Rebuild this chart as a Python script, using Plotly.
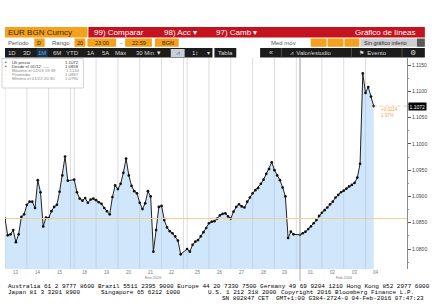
import plotly.graph_objects as go

# ---------------- data ----------------
days = ["13", "14", "15", "18", "19", "20", "21", "22", "25", "26",
        "27", "28", "29", "01", "02", "03", "04"]
weekend_after = ["15", "22", "29"]
session_hours = ["23:00", "02:00", "05:00", "08:00", "11:00", "14:00", "17:00", "20:00"]

jan13 = [1.0858, 1.0826, 1.0828, 1.0836, 1.0813, 1.0828, 1.0861, 1.0866]
jan14 = [1.0884, 1.0890, 1.0890, 1.0878, 1.0931, 1.0908, 1.0843, 1.0860]
jan15 = [1.0859, 1.0872, 1.0880, 1.0884, 1.0909, 1.0940, 1.0976, 1.0930]
jan18 = [1.0932, 1.0908, 1.0896, 1.0892, 1.0897, 1.0888, 1.0894, 1.0896]
jan19 = [1.0893, 1.0889, 1.0886, 1.0878, 1.0872, 1.0866, 1.0899, 1.0921]
jan20 = [1.0914, 1.0924, 1.0945, 1.0972, 1.0940, 1.0920, 1.0910, 1.0906]
jan21 = [1.0888, 1.0876, 1.0887, 1.0910, 1.0900, 1.0795, 1.0836, 1.0880]
jan22 = [1.0882, 1.0855, 1.0841, 1.0834, 1.0830, 1.0824, 1.0816, 1.0790]
jan25 = [1.0800, 1.0795, 1.0808, 1.0814, 1.0817, 1.0824, 1.0832, 1.0840]
jan26 = [1.0849, 1.0852, 1.0853, 1.0858, 1.0864, 1.0867, 1.0868, 1.0862]
jan27 = [1.0858, 1.0871, 1.0880, 1.0885, 1.0881, 1.0879, 1.0890, 1.0898]
jan28 = [1.0906, 1.0912, 1.0916, 1.0924, 1.0932, 1.0943, 1.0952, 1.0965]
jan29 = [1.0950, 1.0940, 1.0931, 1.0917, 1.0900, 1.0821, 1.0833, 1.0828]
feb01 = [1.0827, 1.0830, 1.0833, 1.0838, 1.0843, 1.0849, 1.0855, 1.0863]
feb02 = [1.0869, 1.0874, 1.0879, 1.0885, 1.0890, 1.0898, 1.0903, 1.0908]
feb03 = [1.0911, 1.0915, 1.0919, 1.0922, 1.0926, 1.0936, 1.0962, 1.1134]
feb04 = [1.1097, 1.1108, 1.1090, 1.1072]

series_by_day = [jan13, jan14, jan15, jan18, jan19, jan20, jan21, jan22, jan25,
                 jan26, jan27, jan28, jan29, feb01, feb02, feb03, feb04]

y_ticks = [1.0800, 1.0850, 1.0900, 1.0950, 1.1000, 1.1050, 1.1100, 1.1150]
last_price = 1.1072
start_price = 1.0858
legend_rows = [("Últ precio", "1.1072"), ("Desde el 01/12  ----", "1.0858"),
               ("Máximo el 02/03 19:39", "1.1134"), ("Promedio", "1.0887"),
               ("Mínimo el 01/22 20:30", "1.0790")]
change_text = ["+0.0214", "1.97%"]

# ---------------- layout constants ----------------
W, H = 432, 306
PL, PR, PT, PB = 5, 410, 58, 269
DAY_PX = 22.0
GAP = 0.17
Y_RANGE = [1.0762, 1.11634]
X_MAX = (PR - PL) / DAY_PX

def px(x):
    return (x - PL) / (PR - PL)

def py(y):
    return (PB - y) / (PB - PT)

# positions of each trading session
pos = {}
off = 0.0
for i, d in enumerate(days):
    pos[d] = i + off
    if d in weekend_after:
        off += GAP

xs, ys = [], []
n = len(session_hours)
for d, vals in zip(days, series_by_day):
    for k, v in enumerate(vals):
        xs.append(pos[d] + k / n)
        ys.append(v)

fig = go.Figure()
fig.add_trace(go.Scatter(
    x=xs, y=ys, mode="lines+markers",
    line=dict(color="#222222", width=1),
    marker=dict(size=2.7, color="#111111"),
    fill="tozeroy", fillcolor="rgba(150,200,246,0.45)",
    hoverinfo="skip", showlegend=False))

shapes = []
ann = []

# vertical day gridlines
for d in days:
    shapes.append(dict(type="line", xref="x", yref="paper", x0=pos[d], x1=pos[d],
                       y0=0, y1=1, line=dict(color="#cfcfcf", width=0.7), layer="below"))
    if d in weekend_after:
        shapes.append(dict(type="line", xref="x", yref="paper", x0=pos[d] + 1, x1=pos[d] + 1,
                           y0=0, y1=1, line=dict(color="#cfcfcf", width=0.7), layer="below"))
# month separator
shapes.append(dict(type="line", xref="x", yref="paper", x0=pos["01"], x1=pos["01"],
                   y0=py(281), y1=1, line=dict(color="#9a9a9a", width=0.8)))
# start-price line
shapes.append(dict(type="line", xref="paper", yref="y", x0=0, x1=1, y0=start_price, y1=start_price,
                   line=dict(color="#f1cf95", width=1)))
# last price dotted line
shapes.append(dict(type="line", xref="x", yref="y", x0=xs[-1], x1=X_MAX, y0=last_price, y1=last_price,
                   line=dict(color="#efc27c", width=0.8, dash="dot")))

# last price box
ann.append(dict(xref="paper", yref="y", x=1.003, y=last_price, text="1.1072", showarrow=False,
                xanchor="left", yanchor="middle", bgcolor="#000000",
                font=dict(family="Liberation Sans", size=5, color="#ffffff"), borderpad=0.5))
for t, yy in zip(change_text, [109, 115.5]):
    ann.append(dict(xref="paper", yref="paper", x=px(382), y=py(yy), text=t, showarrow=False,
                    xanchor="left", yanchor="middle",
                    font=dict(family="Liberation Sans", size=4.5, color="#f0a53a")))

# x labels (day centres) and months
for d in days:
    ann.append(dict(xref="x", yref="paper", x=pos[d] + 0.5, y=py(272.5), text=d, showarrow=False,
                    xanchor="center", yanchor="middle",
                    font=dict(family="Liberation Sans", size=4.5, color="#7a7a7a")))
ann.append(dict(xref="x", yref="paper", x=(pos["13"] + pos["01"]) / 2, y=py(277.5), text="Ene 2016",
                showarrow=False, xanchor="center", yanchor="middle",
                font=dict(family="Liberation Sans", size=3.8, color="#7a7a7a")))
ann.append(dict(xref="x", yref="paper", x=pos["03"], y=py(277.5), text="Feb 2016",
                showarrow=False, xanchor="center", yanchor="middle",
                font=dict(family="Liberation Sans", size=3.8, color="#7a7a7a")))

# legend box
shapes.append(dict(type="rect", xref="paper", yref="paper", x0=px(2), x1=px(84), y0=py(88), y1=py(58.5),
                   fillcolor="#ffffff", line=dict(color="#b5b5b5", width=0.6)))
for i, (lab, val) in enumerate(legend_rows):
    yy = 62.5 + i * 3.9
    col = "#333333" if i < 2 else "#8a8a8a"
    ann.append(dict(xref="paper", yref="paper", x=px(10), y=py(yy), text=lab, showarrow=False,
                    xanchor="left", yanchor="middle", font=dict(family="Liberation Sans", size=4.3, color=col)))
    ann.append(dict(xref="paper", yref="paper", x=px(82), y=py(yy), text=val, showarrow=False,
                    xanchor="right", yanchor="middle", font=dict(family="Liberation Sans", size=4.3, color=col)))
    ann.append(dict(xref="paper", yref="paper", x=px(6.5), y=py(yy), text="•" if i < 2 else "·",
                    showarrow=False, xanchor="center", yanchor="middle",
                    font=dict(family="Liberation Sans", size=4.5, color=col)))

# ---------------- toolbar ----------------
def rect(x0, y0, x1, y1, color, line=None):
    shapes.append(dict(type="rect", xref="paper", yref="paper", x0=px(x0), x1=px(x1),
                       y0=py(y1), y1=py(y0), fillcolor=color,
                       line=dict(width=0) if line is None else line))

def label(x, y, text, size, color, anchor="left", family="Liberation Sans"):
    ann.append(dict(xref="paper", yref="paper", x=px(x), y=py(y), text=text, showarrow=False,
                    xanchor=anchor, yanchor="middle", font=dict(family=family, size=size, color=color)))

ORANGE = "#f6a11d"
# row 1
rect(5, 27, 88, 37.5, ORANGE)
label(6, 32.4, "EUR BGN Curncy", 8, "#3a2a08")
rect(89, 27, 428, 37.5, "#c4121f")
label(93, 32.4, "99) Comparar", 8, "#ffffff")
label(163, 32.4, "98) Acc ▾", 8, "#ffffff")
label(216, 32.4, "97) Camb ▾", 8, "#ffffff")
label(420, 32.4, "Gráfico de líneas", 8, "#ffffff", anchor="right")
# row 2
label(6, 42.6, "Periodo", 6, "#555555")
rect(34.5, 38.5, 45, 46.8, ORANGE); label(39.7, 42.6, "D", 5.5, "#2a1e00", "center")
label(50, 42.6, "Rango", 6, "#555555")
rect(75, 38.5, 86, 46.8, ORANGE); label(80.5, 42.6, "20", 5.5, "#2a1e00", "center")
rect(88, 38.5, 117, 46.8, ORANGE); label(102.5, 42.6, "23:00", 5.5, "#2a1e00", "center")
label(122, 42.6, "-", 6, "#333333", "center")
rect(126, 38.5, 153, 46.8, ORANGE); label(139.5, 42.6, "22:59", 5.5, "#2a1e00", "center")
rect(156, 38.5, 180, 46.8, ORANGE); label(161, 42.6, "BGN", 5.5, "#2a1e00")
label(300, 42.6, "Med móv", 6, "#555555", "right")
for a, b in [(313, 329), (330, 346), (347, 362)]:
    rect(a, 38.5, b, 46.8, ORANGE)
rect(363, 38.5, 420, 46.8, "#cfcfcf"); label(365, 42.6, "Sin gráfico inferio", 5.5, "#222222")
rect(420, 38.5, 428, 46.8, "#5a5a5a")
# row 3
DARK = "#1c1c1c"
rect(5, 48, 214, 57.5, DARK)
rect(37, 48.5, 48, 57, "#1b3553")
for t, x in [("1D", 12), ("3D", 27), ("6M", 57), ("YTD", 73), ("1A", 91), ("5A", 106),
             ("Máx", 121), ("30 Min ▼", 150), ("1↕", 196), ("▾", 210)]:
    label(x, 52.8, t, 6, "#d8d8d8", "center")
label(42.5, 52.8, "1M", 6, "#5ea7ea", "center")
rect(172, 49, 186, 57, "#c7d0da"); label(179, 52.8, "⩘", 6.5, "#2e6fb8", "center")
rect(216, 48, 238, 57.5, DARK); label(227, 52.8, "Tabla", 6, "#d8d8d8", "center")
rect(262, 48, 428, 57.5, DARK)
for xx in [283.5, 354, 405]:
    shapes.append(dict(type="line", xref="paper", yref="paper", x0=px(xx), x1=px(xx),
                       y0=py(57.5), y1=py(48), line=dict(color="#5a5a5a", width=0.8)))
label(272.5, 52.8, "«", 7, "#d8d8d8", "center")
label(290, 52.8, "⩘  Valor/estudio", 6, "#d8d8d8")
label(360, 52.8, "⚑  Evento", 6, "#d8d8d8")
label(416, 52.8, "⚙", 6.5, "#d8d8d8", "center")

# ---------------- footer ----------------
MONO = "Liberation Mono"
label(6, 286, "Australia 61 2 9777 8600 Brazil 5511 2395 9000 Europe 44 20 7330 7500 Germany 49 69 9204 1210 Hong Kong 852 2977 6000",
      6, "#000000", family=MONO)
label(6, 292, "Japan 81 3 3201 8900", 6, "#000000", family=MONO)
label(100, 292, "Singapore 65 6212 1000", 6, "#000000", family=MONO)
label(207, 292, "U.S. 1 212 318 2000", 6, "#000000", family=MONO)
label(281, 292, "Copyright 2016 Bloomberg Finance L.P.", 6, "#000000", family=MONO)
label(429, 298, "SN 802847 CET  GMT+1:00 G384-2724-0 04-Feb-2016 07:47:23", 6, "#000000",
      anchor="right", family=MONO)

fig.update_layout(
    width=W, height=H, autosize=False,
    margin=dict(l=PL, r=W - PR, t=PT, b=H - PB, pad=0),
    paper_bgcolor="#ffffff", plot_bgcolor="#ffffff",
    showlegend=False, shapes=shapes, annotations=ann,
    xaxis=dict(range=[0, X_MAX], showgrid=False, zeroline=False, showticklabels=False,
               ticks="", showline=False, fixedrange=True),
    yaxis=dict(range=Y_RANGE, side="right", showgrid=False, zeroline=False,
               showline=True, linecolor="#8a8a8a", linewidth=0.8,
               tickvals=y_ticks, ticktext=[f"{v:.4f}" for v in y_ticks],
               ticks="outside", ticklen=3, tickcolor="#555555", tickwidth=0.8,
               minor=dict(dtick=0.0025, ticks="outside", ticklen=1.5, tickcolor="#999999"),
               tickfont=dict(family="Liberation Sans", size=5, color="#444444")),
)

fig.write_html("out.html")
